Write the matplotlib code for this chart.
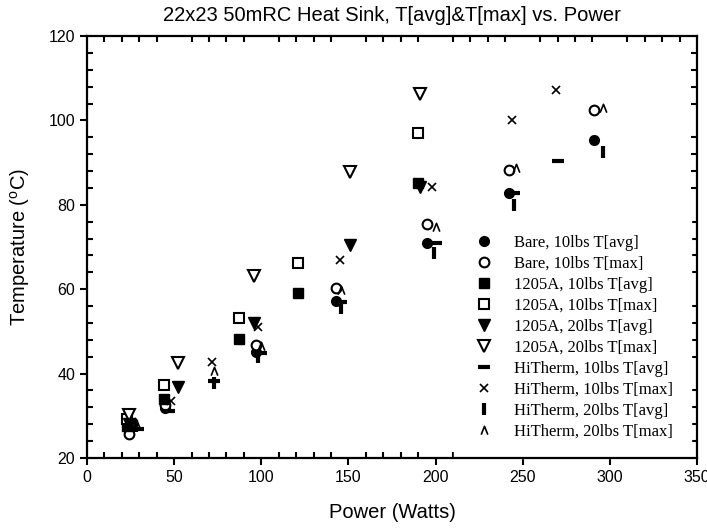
import numpy as np
import matplotlib
matplotlib.use("Agg")
import matplotlib.pyplot as plt
from matplotlib.path import Path
from matplotlib.ticker import MultipleLocator

plt.rcParams["font.family"] = ["Liberation Sans", "DejaVu Sans"]
plt.rcParams["mathtext.fontset"] = "custom"
plt.rcParams["mathtext.rm"] = "Liberation Sans"

# power (W) / temperature (C)
bare_p = [24, 45, 97, 143, 195, 242, 291]
bare_avg = [26.4, 31.8, 45.1, 57.2, 71.0, 82.8, 95.4]
bare_max = [25.7, 32.5, 46.8, 60.3, 75.4, 88.2, 102.5]

a10_p = [23, 44, 87, 121, 190]
a10_avg = [27.6, 34.0, 48.2, 59.1, 85.2]
a10_max = [29.2, 37.3, 53.2, 66.2, 97.0]

a20_p = [24, 52, 96, 151, 191]
a20_avg = [28.0, 36.8, 52.0, 70.5, 84.2]
a20_max = [30.2, 42.5, 63.1, 87.8, 106.3]

h10_p = [29, 47, 73, 100, 146, 200, 245, 270]
h10_avg = [26.9, 31.1, 38.3, 44.9, 57.0, 71.0, 82.8, 90.4]
h10_max_p = [26, 48, 72, 98, 145, 198, 244, 269]
h10_max = [28.5, 33.5, 42.7, 51.0, 67.0, 84.2, 100.1, 107.2]

h20_p = [28, 73, 98, 146, 199, 245, 296]
h20_avg = [27.5, 37.8, 43.9, 55.5, 68.6, 80.0, 92.5]
h20_max_p = [28, 73, 100, 146, 200, 246, 296]
h20_max = [28.3, 40.6, 46.5, 59.8, 74.7, 88.7, 103.0]

labels = [
    "Bare, 10lbs T[avg]", "Bare, 10lbs T[max]",
    "1205A, 10lbs T[avg]", "1205A, 10lbs T[max]",
    "1205A, 20lbs T[avg]", "1205A, 20lbs T[max]",
    "HiTherm, 10lbs T[avg]", "HiTherm, 10lbs T[max]",
    "HiTherm, 20lbs T[avg]", "HiTherm, 20lbs T[max]",
]

caret = Path([(-0.8, -1.0), (0.0, 1.0), (0.8, -1.0)],
             [Path.MOVETO, Path.LINETO, Path.LINETO])

fig = plt.figure(figsize=(7.07, 5.29), dpi=100)
ax = fig.add_axes([87 / 707, 1 - 458 / 529, 610 / 707, 422 / 529])

k = dict(color="black", linestyle="none", clip_on=False)
ax.plot(bare_p, bare_avg, marker="o", ms=7, **k, label=labels[0])
ax.plot(bare_p, bare_max, marker="o", ms=7, mfc="white", mew=1.5, **k, label=labels[1])
ax.plot(a10_p, a10_avg, marker="s", ms=7, **k, label=labels[2])
ax.plot(a10_p, a10_max, marker="s", ms=7, mfc="white", mew=1.5, **k, label=labels[3])
ax.plot(a20_p, a20_avg, marker="v", ms=8, **k, label=labels[4])
ax.plot(a20_p, a20_max, marker="v", ms=8, mfc="white", mew=1.5, **k, label=labels[5])
ax.plot(h10_p, h10_avg, marker="_", ms=8, mew=3, **k, label=labels[6])
ax.plot(h10_max_p, h10_max, marker="x", ms=6, mew=1.2, **k, label=labels[7])
ax.plot(h20_p, h20_avg, marker="|", ms=8, mew=3, **k, label=labels[8])
ax.plot(h20_max_p, h20_max, marker=caret, ms=6, mew=1.2, mfc="none", **k, label=labels[9])

ax.set_xlim(0, 350)
ax.set_ylim(20, 120)
ax.xaxis.set_major_locator(MultipleLocator(50))
ax.xaxis.set_minor_locator(MultipleLocator(10))
ax.yaxis.set_major_locator(MultipleLocator(20))
ax.yaxis.set_minor_locator(MultipleLocator(4))
ax.tick_params(which="major", direction="out", length=5, width=1.5, labelsize=11.5)
ax.tick_params(which="minor", direction="in", length=4, width=1.5,
               top=True, right=True)

for s in ax.spines.values():
    s.set_linewidth(1.6)
    s.set_zorder(10)

ax.set_title("22x23 50mRC Heat Sink, T[avg]&T[max] vs. Power", fontsize=14.5, pad=11)
ax.set_xlabel("Power (Watts)", fontsize=14.5, labelpad=13)
ax.set_ylabel(r"Temperature ($^\mathrm{o}$C)", fontsize=14.5, labelpad=12)

leg = ax.legend(loc="lower right", bbox_to_anchor=(604 / 610, 0.0), frameon=True,
                fancybox=False, edgecolor="white", framealpha=1,
                prop={"family": "Liberation Serif", "size": 12},
                handletextpad=1.0, labelspacing=0.3, borderpad=1.1,
                borderaxespad=0, handlelength=1.5)
leg.set_zorder(5)

fig.savefig("out.png", dpi=100)
